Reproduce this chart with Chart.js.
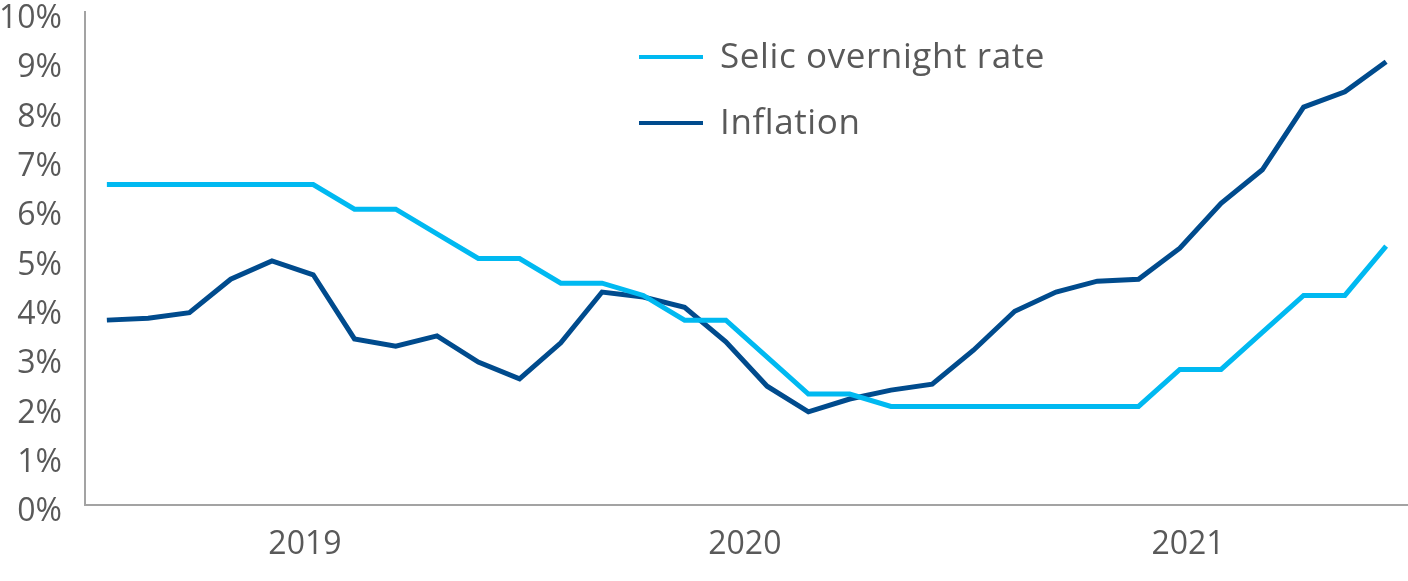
<!DOCTYPE html>
<html>
<head>
<meta charset="utf-8">
<script src="https://cdn.jsdelivr.net/npm/chart.js@4.4.1/dist/chart.umd.min.js"></script>
<style>
  html, body { margin: 0; padding: 0; background: #fff; }
  #wrap { width: 1408px; height: 581px; position: relative; }
</style>
</head>
<body>
<div id="wrap"><canvas id="rateChart"></canvas></div>
<script>
// monthly, Dec 2018 .. Jul 2021
const months = [
  '2018-12', '2019-01', '2019-02', '2019-03', '2019-04', '2019-05', '2019-06', '2019-07',
  '2019-08', '2019-09', '2019-10', '2019-11', '2019-12', '2020-01', '2020-02', '2020-03',
  '2020-04', '2020-05', '2020-06', '2020-07', '2020-08', '2020-09', '2020-10', '2020-11',
  '2020-12', '2021-01', '2021-02', '2021-03', '2021-04', '2021-05', '2021-06', '2021-07'
];

const selic = [
  6.5, 6.5, 6.5, 6.5, 6.5, 6.5, 6.0, 6.0,
  5.5, 5.0, 5.0, 4.5, 4.5, 4.25, 3.75, 3.75,
  3.0, 2.25, 2.25, 2.0, 2.0, 2.0, 2.0, 2.0,
  2.0, 2.0, 2.75, 2.75, 3.5, 4.25, 4.25, 5.25
];

const inflation = [
  3.75, 3.79, 3.9, 4.58, 4.95, 4.67, 3.37, 3.22,
  3.43, 2.9, 2.56, 3.29, 4.32, 4.22, 4.01, 3.31,
  2.41, 1.89, 2.15, 2.33, 2.45, 3.14, 3.93, 4.32,
  4.54, 4.58, 5.21, 6.12, 6.8, 8.07, 8.38, 8.99
];

// year labels and where they sit on the month index axis
const yearLabels = ['2019', '2020', '2021'];
const yearTicks = [4.8, 15.46, 26.2];

const yTicks = [0, 1, 2, 3, 4, 5, 6, 7, 8, 9, 10];

const textColor = '#595959';
const fontFamily = "'Open Sans', 'Liberation Sans', sans-serif";

const toPoints = arr => arr.map((v, i) => ({ x: i, y: v }));

// legend drawn inside the plot, line sample + label
const insideLegend = {
  id: 'insideLegend',
  afterDraw(chart) {
    const ctx = chart.ctx;
    const rows = [57, 123];
    ctx.save();
    chart.data.datasets.forEach((ds, i) => {
      const y = rows[i];
      ctx.strokeStyle = ds.borderColor;
      ctx.lineWidth = 4;
      ctx.beginPath();
      ctx.moveTo(639, y);
      ctx.lineTo(703, y);
      ctx.stroke();
      ctx.fillStyle = textColor;
      ctx.font = '35px ' + fontFamily;
      ctx.letterSpacing = '0.6px';
      ctx.textBaseline = 'middle';
      ctx.textAlign = 'left';
      ctx.fillText(ds.label, 720, y + 1);
    });
    ctx.restore();
  }
};

new Chart(document.getElementById('rateChart'), {
  type: 'line',
  data: {
    datasets: [
      {
        label: 'Selic overnight rate',
        data: toPoints(selic),
        borderColor: '#00B9F1',
        borderWidth: 5,
        pointRadius: 0,
        tension: 0
      },
      {
        label: 'Inflation',
        data: toPoints(inflation),
        borderColor: '#004B8D',
        borderWidth: 5,
        pointRadius: 0,
        tension: 0
      }
    ]
  },
  options: {
    responsive: true,
    maintainAspectRatio: false,
    animation: false,
    layout: { padding: { top: 12, right: 0, left: 0, bottom: 0 } },
    plugins: {
      legend: { display: false },
      tooltip: { enabled: false }
    },
    scales: {
      x: {
        type: 'linear',
        min: -0.53,
        max: 31.53,
        afterBuildTicks: scale => {
          scale.ticks = yearTicks.map(v => ({ value: v }));
        },
        afterFit: scale => {
          scale.height = 76;
          scale.paddingLeft = 0;
          scale.paddingRight = 0;
        },
        grid: { display: false, drawTicks: false },
        border: { display: true, color: '#a3a3a3', width: 2 },
        ticks: {
          autoSkip: false,
          maxRotation: 0,
          padding: 21,
          color: textColor,
          font: { family: fontFamily, size: 32 },
          callback: v => {
            const i = yearTicks.indexOf(v);
            return i >= 0 ? yearLabels[i] : '';
          }
        }
      },
      y: {
        min: 0,
        max: 10,
        afterBuildTicks: scale => {
          scale.ticks = yTicks.map(v => ({ value: v }));
        },
        afterFit: scale => {
          scale.width = 85;
          scale.paddingTop = 0;
          scale.paddingBottom = 0;
        },
        grid: { display: false, drawTicks: false },
        border: { display: true, color: '#a3a3a3', width: 2 },
        ticks: {
          padding: 23,
          labelOffset: 7,
          color: textColor,
          font: { family: fontFamily, size: 32 },
          callback: v => v + '%'
        }
      }
    }
  },
  plugins: [insideLegend]
});
</script>
</body>
</html>
